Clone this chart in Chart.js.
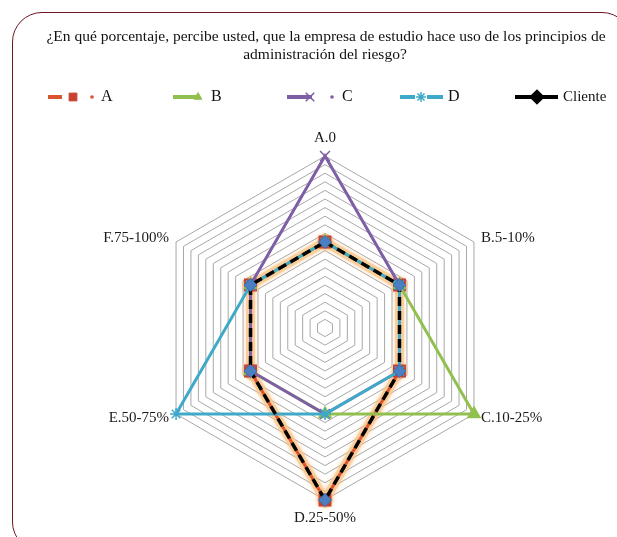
<!DOCTYPE html>
<html>
<head>
<meta charset="utf-8">
<script src="https://cdn.jsdelivr.net/npm/chart.js@4/dist/chart.umd.min.js"></script>
<style>
  html, body { margin: 0; padding: 0; background: #fff; overflow: hidden; }
  #wrap { position: relative; width: 617px; height: 537px; }
  #frame {
    position: absolute; left: 12px; top: 12px; width: 620px; height: 540px;
    border: 1.5px solid #6e1622; border-radius: 30px; box-sizing: border-box;
  }
  canvas { position: absolute; left: 0; top: 0; }
</style>
</head>
<body>
<div id="wrap">
  <div id="frame"></div>
  <canvas id="c" width="617" height="537"></canvas>
</div>
<script>
// Axis categories (answer ranges)
const categories = ['A.0', 'B.5-10%', 'C.10-25%', 'D.25-50%', 'E.50-75%', 'F.75-100%'];
// Series values
const serieA = [10, 10, 10, 20, 10, 10];
const serieB = [10, 10, 20, 10, 10, 10];
const serieC = [20, 10, 10, 10, 10, 10];
const serieD = [10, 10, 10, 10, 20, 10];
const serieCliente = [10, 10, 10, 20, 10, 10];
const seriesNames = ['A', 'B', 'C', 'D', 'Cliente'];
const titleLines = ['¿En qué porcentaje, percibe usted, que la empresa de estudio hace uso de los principios de',
                    'administración del riesgo?'];

const SERIF = '"Liberation Serif", "Times New Roman", serif';

const datasets = [
  { label: seriesNames[0], data: serieA, borderColor: '#d9542f', backgroundColor: '#c8402e',
    borderWidth: 3, pointStyle: 'rect', pointRadius: 7, pointBorderColor: '#c8402e', pointBackgroundColor: '#c8402e', order: 4 },
  { label: seriesNames[1], data: serieB, borderColor: '#92c04f', backgroundColor: '#92c04f',
    borderWidth: 3, pointStyle: 'triangle', pointRadius: 5.5, pointBorderColor: '#92c04f', pointBackgroundColor: '#92c04f', order: 3 },
  { label: seriesNames[2], data: serieC, borderColor: '#7e5fa6', backgroundColor: '#7e5fa6',
    borderWidth: 3, pointStyle: 'cross', pointRotation: 45, pointRadius: 7, pointBorderWidth: 1.5,
    pointBorderColor: '#7e5fa6', pointBackgroundColor: '#7e5fa6', order: 2 },
  { label: seriesNames[3], data: serieD, borderColor: '#3fa9c9', backgroundColor: '#3fa9c9',
    borderWidth: 3, pointStyle: 'star', pointRadius: 6, pointBorderWidth: 1.5,
    pointBorderColor: '#3fa9c9', pointBackgroundColor: '#3fa9c9', order: 1 },
  { label: seriesNames[4], data: serieCliente, borderColor: '#000000', backgroundColor: '#4a7fc1',
    borderWidth: 3.5, borderDash: [9, 5], pointStyle: 'rectRot', pointRadius: 6.5,
    pointBorderColor: '#3c6fae', pointBackgroundColor: '#4a7fc1', pointBorderWidth: 1, order: 0 }
];
datasets.forEach(d => { d.fill = false; d.tension = 0; d.pointHoverRadius = d.pointRadius; });

// Soft orange halo under series A
const glowPlugin = {
  id: 'glowA',
  beforeDatasetDraw(chart, args) {
    if (args.index !== 0) return;
    const ctx = chart.ctx;
    const pts = args.meta.data;
    ctx.save();
    ctx.lineJoin = 'round';
    ctx.lineCap = 'round';
    ctx.shadowColor = 'rgba(248,175,100,0.8)';
    ctx.shadowBlur = 4;
    ctx.strokeStyle = 'rgba(250,200,140,0.7)';
    ctx.lineWidth = 9;
    ctx.beginPath();
    pts.forEach((p, i) => { if (i === 0) ctx.moveTo(p.x, p.y); else ctx.lineTo(p.x, p.y); });
    ctx.closePath();
    ctx.stroke();
    ctx.fillStyle = 'rgba(250,190,125,0.6)';
    pts.forEach(p => { ctx.beginPath(); ctx.arc(p.x, p.y, 8, 0, Math.PI * 2); ctx.fill(); });
    ctx.restore();
  }
};

// Category labels placed around the outer ring
const axisLabelPlugin = {
  id: 'axisLabels',
  afterDraw(chart) {
    const scale = chart.scales.r;
    const ctx = chart.ctx;
    const offsets = [[0, -18, 'center'], [7, -4, 'left'], [7, 4, 'left'],
                     [0, 18, 'center'], [-7, 4, 'right'], [-7, -4, 'right']];
    ctx.save();
    ctx.font = '15px ' + SERIF;
    ctx.fillStyle = '#1a1a1a';
    ctx.textBaseline = 'middle';
    categories.forEach((lbl, i) => {
      const p = scale.getPointPosition(i, scale.drawingArea);
      const o = offsets[i];
      ctx.textAlign = o[2];
      ctx.fillText(lbl, p.x + o[0], p.y + o[1]);
    });
    ctx.restore();
  }
};

// Title and legend drawn across the top
const headerPlugin = {
  id: 'header',
  afterDraw(chart) {
    const ctx = chart.ctx;
    ctx.save();
    ctx.fillStyle = '#111';
    ctx.font = '15.5px ' + SERIF;
    ctx.textAlign = 'center';
    ctx.textBaseline = 'middle';
    ctx.fillText(titleLines[0], 326, 37);
    ctx.fillText(titleLines[1], 325, 55);

    const y = 97;
    const ds = chart.data.datasets;
    const drawMarker = (d, x, yy, r) => {
      ctx.fillStyle = d.pointBackgroundColor;
      ctx.strokeStyle = d.pointBorderColor;
      ctx.lineWidth = d.pointBorderWidth || 1;
      Chart.helpers.drawPoint(ctx, { pointStyle: d.pointStyle, radius: r,
        rotation: d.pointRotation || 0, borderWidth: d.pointBorderWidth || 1 }, x, yy);
    };
    const seg = (color, x0, x1, w) => {
      ctx.strokeStyle = color; ctx.lineWidth = w; ctx.lineCap = 'butt';
      ctx.beginPath(); ctx.moveTo(x0, y); ctx.lineTo(x1, y); ctx.stroke();
    };
    const dot = (color, x) => { ctx.fillStyle = color; ctx.beginPath(); ctx.arc(x, y, 1.8, 0, Math.PI * 2); ctx.fill(); };

    // A
    seg(ds[0].borderColor, 48, 62, 4);
    drawMarker(ds[0], 73, y, 5.5);
    dot(ds[0].borderColor, 92);
    // B
    seg(ds[1].borderColor, 173, 200, 4);
    drawMarker(ds[1], 198, y, 4.5);
    // C
    seg(ds[2].borderColor, 287, 312, 4);
    drawMarker(ds[2], 310, y, 6);
    dot(ds[2].borderColor, 332);
    // D
    seg(ds[3].borderColor, 400, 443, 4);
    ctx.fillStyle = '#fff'; ctx.fillRect(415, y - 4, 12, 8);
    drawMarker(ds[3], 421, y, 5);
    // Cliente
    seg('#000', 515, 558, 4);
    ctx.fillStyle = '#000'; ctx.strokeStyle = '#000';
    Chart.helpers.drawPoint(ctx, { pointStyle: 'rectRot', radius: 5, rotation: 0, borderWidth: 1 }, 537, y);

    ctx.fillStyle = '#111';
    ctx.textAlign = 'left';
    ctx.font = '16px ' + SERIF;
    ctx.fillText(seriesNames[0], 101, y);
    ctx.fillText(seriesNames[1], 211, y);
    ctx.fillText(seriesNames[2], 342, y);
    ctx.fillText(seriesNames[3], 448, y);
    ctx.font = '15px ' + SERIF;
    ctx.fillText(seriesNames[4], 563, y);
    ctx.restore();
  }
};

new Chart(document.getElementById('c'), {
  type: 'radar',
  data: { labels: categories, datasets },
  plugins: [glowPlugin, axisLabelPlugin, headerPlugin],
  options: {
    responsive: false,
    animation: false,
    devicePixelRatio: 1,
    layout: { padding: { top: 156, bottom: 37, left: 137, right: 104 } },
    plugins: { legend: { display: false }, title: { display: false }, tooltip: { enabled: false } },
    scales: {
      r: {
        min: 0, max: 20,
        ticks: { stepSize: 1, display: false },
        grid: { color: '#a8a8a8', lineWidth: 1 },
        angleLines: { display: false },
        pointLabels: { display: false }
      }
    }
  }
});
</script>
</body>
</html>
